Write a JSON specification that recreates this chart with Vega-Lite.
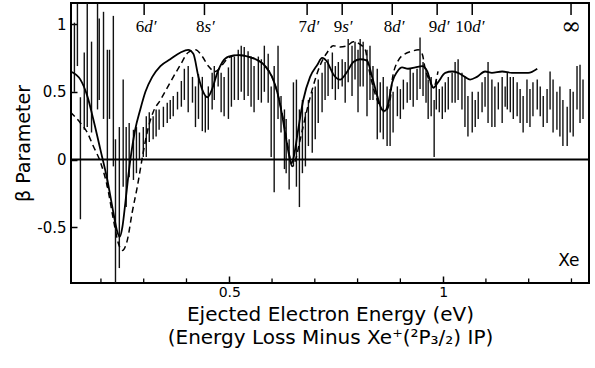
{
"$schema": "https://vega.github.io/schema/vega-lite/v6.json",
"width": 518, "height": 280,
"autosize": "none",
"padding": {"left": 71, "top": 3, "right": 6, "bottom": 85},
"background": "white",
"config": {
 "view": {"stroke": "black", "strokeWidth": 2},
 "axis": {"domain": false, "grid": false, "tickColor": "black", "labelColor": "black", "titleColor": "black", "labelFont": "DejaVu Sans", "titleFont": "DejaVu Sans", "titleFontWeight": "normal"}
},
"datasets": {
 "bars": [
{"E":0.138,"lo":0.50,"hi":1.01},{"E":0.145,"lo":0.69,"hi":1.15},{"E":0.152,"lo":-0.44,"hi":0.46},{"E":0.161,"lo":0.22,"hi":0.79},{"E":0.168,"lo":0.24,"hi":1.16},{"E":0.178,"lo":0.20,"hi":0.87},{"E":0.192,"lo":0.37,"hi":1.15},{"E":0.196,"lo":0.44,"hi":1.04},{"E":0.206,"lo":0.30,"hi":1.09},{"E":0.215,"lo":-0.20,"hi":0.81},{"E":0.220,"lo":0.30,"hi":0.81},{"E":0.229,"lo":-0.05,"hi":1.06},{"E":0.234,"lo":-0.91,"hi":0.15},{"E":0.243,"lo":-0.80,"hi":0.24},{"E":0.252,"lo":-0.20,"hi":0.59},{"E":0.259,"lo":-0.35,"hi":0.24},{"E":0.266,"lo":-0.13,"hi":0.27},{"E":0.276,"lo":-0.15,"hi":0.22},{"E":0.283,"lo":-0.10,"hi":0.24},{"E":0.290,"lo":0.00,"hi":0.20},{"E":0.299,"lo":0.02,"hi":0.24},{"E":0.306,"lo":0.02,"hi":0.32},{"E":0.313,"lo":0.13,"hi":0.35},{"E":0.322,"lo":0.15,"hi":0.32},{"E":0.329,"lo":0.17,"hi":0.37},{"E":0.336,"lo":0.22,"hi":0.37},{"E":0.346,"lo":0.24,"hi":0.39},{"E":0.355,"lo":0.27,"hi":0.42},{"E":0.362,"lo":0.30,"hi":0.44},{"E":0.369,"lo":0.32,"hi":0.47},{"E":0.379,"lo":0.37,"hi":0.50},{"E":0.388,"lo":0.39,"hi":0.58},{"E":0.395,"lo":0.44,"hi":0.67},{"E":0.404,"lo":0.35,"hi":0.69},{"E":0.414,"lo":0.42,"hi":0.61},{"E":0.421,"lo":0.24,"hi":0.54},{"E":0.428,"lo":0.30,"hi":0.63},{"E":0.437,"lo":0.21,"hi":0.61},{"E":0.444,"lo":0.20,"hi":0.47},{"E":0.451,"lo":0.22,"hi":0.54},{"E":0.460,"lo":0.37,"hi":0.64},{"E":0.465,"lo":0.44,"hi":0.69},{"E":0.474,"lo":0.54,"hi":0.65},{"E":0.481,"lo":0.35,"hi":0.64},{"E":0.488,"lo":0.32,"hi":0.61},{"E":0.498,"lo":0.30,"hi":0.68},{"E":0.505,"lo":0.39,"hi":0.76},{"E":0.512,"lo":0.44,"hi":0.76},{"E":0.521,"lo":0.44,"hi":0.81},{"E":0.528,"lo":0.50,"hi":0.84},{"E":0.535,"lo":0.44,"hi":0.83},{"E":0.544,"lo":0.47,"hi":0.80},{"E":0.551,"lo":0.39,"hi":0.76},{"E":0.558,"lo":0.35,"hi":0.69},{"E":0.568,"lo":0.44,"hi":0.76},{"E":0.575,"lo":0.42,"hi":0.74},{"E":0.582,"lo":0.50,"hi":0.84},{"E":0.591,"lo":0.42,"hi":0.78},{"E":0.598,"lo":0.02,"hi":0.54},{"E":0.605,"lo":-0.24,"hi":0.69},{"E":0.614,"lo":0.30,"hi":0.84},{"E":0.621,"lo":0.20,"hi":0.47},{"E":0.629,"lo":-0.07,"hi":0.37},{"E":0.633,"lo":-0.10,"hi":0.30},{"E":0.640,"lo":-0.22,"hi":0.15},{"E":0.650,"lo":-0.05,"hi":0.57},{"E":0.657,"lo":-0.20,"hi":0.59},{"E":0.664,"lo":-0.35,"hi":0.37},{"E":0.671,"lo":-0.10,"hi":0.44},{"E":0.678,"lo":-0.05,"hi":0.35},{"E":0.685,"lo":0.10,"hi":0.44},{"E":0.694,"lo":0.05,"hi":0.50},{"E":0.701,"lo":0.15,"hi":0.54},{"E":0.708,"lo":0.27,"hi":0.59},{"E":0.717,"lo":0.35,"hi":0.64},{"E":0.724,"lo":0.44,"hi":0.72},{"E":0.731,"lo":0.47,"hi":0.74},{"E":0.741,"lo":0.52,"hi":0.79},{"E":0.748,"lo":0.44,"hi":0.69},{"E":0.755,"lo":0.52,"hi":0.72},{"E":0.764,"lo":0.54,"hi":0.74},{"E":0.771,"lo":0.42,"hi":0.72},{"E":0.778,"lo":0.57,"hi":0.89},{"E":0.787,"lo":0.47,"hi":0.84},{"E":0.794,"lo":0.59,"hi":0.87},{"E":0.801,"lo":0.35,"hi":0.81},{"E":0.806,"lo":0.54,"hi":0.89},{"E":0.813,"lo":0.54,"hi":0.87},{"E":0.822,"lo":0.32,"hi":0.81},{"E":0.829,"lo":0.44,"hi":0.84},{"E":0.836,"lo":0.44,"hi":0.69},{"E":0.846,"lo":0.15,"hi":0.67},{"E":0.853,"lo":0.20,"hi":0.57},{"E":0.860,"lo":0.15,"hi":0.61},{"E":0.869,"lo":0.10,"hi":0.54},{"E":0.876,"lo":0.10,"hi":0.52},{"E":0.883,"lo":0.20,"hi":0.50},{"E":0.893,"lo":0.32,"hi":0.54},{"E":0.900,"lo":0.30,"hi":0.52},{"E":0.907,"lo":0.37,"hi":0.59},{"E":0.916,"lo":0.42,"hi":0.57},{"E":0.923,"lo":0.44,"hi":0.67},{"E":0.930,"lo":0.39,"hi":0.64},{"E":0.939,"lo":0.44,"hi":0.67},{"E":0.946,"lo":0.52,"hi":0.90},{"E":0.953,"lo":0.47,"hi":0.72},{"E":0.960,"lo":0.42,"hi":0.67},{"E":0.965,"lo":0.30,"hi":0.59},{"E":0.972,"lo":0.32,"hi":0.61},{"E":0.979,"lo":0.02,"hi":0.44},{"E":0.984,"lo":0.37,"hi":0.59},{"E":0.991,"lo":0.35,"hi":0.52},{"E":0.998,"lo":0.30,"hi":0.54},{"E":1.005,"lo":0.35,"hi":0.57},{"E":1.012,"lo":0.37,"hi":0.61},{"E":1.021,"lo":0.42,"hi":0.64},{"E":1.028,"lo":0.42,"hi":0.72},{"E":1.035,"lo":0.44,"hi":0.74},{"E":1.044,"lo":0.37,"hi":0.64},{"E":1.051,"lo":0.24,"hi":0.61},{"E":1.058,"lo":0.17,"hi":0.47},{"E":1.068,"lo":0.20,"hi":0.50},{"E":1.075,"lo":0.24,"hi":0.44},{"E":1.082,"lo":0.30,"hi":0.50},{"E":1.091,"lo":0.35,"hi":0.57},{"E":1.098,"lo":0.39,"hi":0.61},{"E":1.105,"lo":0.27,"hi":0.72},{"E":1.114,"lo":0.24,"hi":0.59},{"E":1.121,"lo":0.24,"hi":0.54},{"E":1.129,"lo":0.37,"hi":0.57},{"E":1.138,"lo":0.27,"hi":0.61},{"E":1.145,"lo":0.39,"hi":0.54},{"E":1.150,"lo":0.37,"hi":0.64},{"E":1.157,"lo":0.35,"hi":0.61},{"E":1.164,"lo":0.30,"hi":0.61},{"E":1.173,"lo":0.32,"hi":0.57},{"E":1.180,"lo":0.27,"hi":0.52},{"E":1.187,"lo":0.20,"hi":0.47},{"E":1.196,"lo":0.27,"hi":0.59},{"E":1.203,"lo":0.24,"hi":0.52},{"E":1.210,"lo":0.32,"hi":0.57},{"E":1.220,"lo":0.37,"hi":0.59},{"E":1.227,"lo":0.32,"hi":0.54},{"E":1.234,"lo":0.24,"hi":0.47},{"E":1.243,"lo":0.27,"hi":0.52},{"E":1.250,"lo":0.37,"hi":0.65},{"E":1.257,"lo":0.20,"hi":0.59},{"E":1.266,"lo":0.22,"hi":0.50},{"E":1.273,"lo":0.17,"hi":0.54},{"E":1.280,"lo":0.10,"hi":0.44},{"E":1.290,"lo":0.10,"hi":0.39},{"E":1.297,"lo":0.20,"hi":0.52},{"E":1.304,"lo":0.17,"hi":0.50},{"E":1.313,"lo":0.37,"hi":0.69},{"E":1.320,"lo":0.27,"hi":0.70},{"E":1.327,"lo":0.30,"hi":0.59}
 ],
 "solid": [
{"E":0.129,"b":0.65},{"E":0.152,"b":0.59},{"E":0.168,"b":0.47},{"E":0.182,"b":0.30},{"E":0.199,"b":0.07},{"E":0.215,"b":-0.15},{"E":0.229,"b":-0.39},{"E":0.238,"b":-0.53},{"E":0.244,"b":-0.57},{"E":0.250,"b":-0.50},{"E":0.257,"b":-0.32},{"E":0.264,"b":-0.12},{"E":0.271,"b":0.05},{"E":0.280,"b":0.22},{"E":0.292,"b":0.37},{"E":0.304,"b":0.50},{"E":0.320,"b":0.61},{"E":0.339,"b":0.69},{"E":0.362,"b":0.74},{"E":0.386,"b":0.79},{"E":0.404,"b":0.81},{"E":0.416,"b":0.78},{"E":0.428,"b":0.61},{"E":0.439,"b":0.50},{"E":0.449,"b":0.46},{"E":0.460,"b":0.52},{"E":0.472,"b":0.64},{"E":0.484,"b":0.72},{"E":0.498,"b":0.76},{"E":0.521,"b":0.77},{"E":0.544,"b":0.76},{"E":0.568,"b":0.73},{"E":0.584,"b":0.69},{"E":0.600,"b":0.61},{"E":0.612,"b":0.50},{"E":0.624,"b":0.32},{"E":0.633,"b":0.15},{"E":0.640,"b":0.03},{"E":0.645,"b":-0.03},{"E":0.650,"b":0.01},{"E":0.661,"b":0.22},{"E":0.673,"b":0.44},{"E":0.689,"b":0.61},{"E":0.706,"b":0.70},{"E":0.717,"b":0.75},{"E":0.729,"b":0.72},{"E":0.743,"b":0.63},{"E":0.759,"b":0.59},{"E":0.776,"b":0.65},{"E":0.790,"b":0.72},{"E":0.806,"b":0.74},{"E":0.822,"b":0.73},{"E":0.834,"b":0.61},{"E":0.846,"b":0.47},{"E":0.857,"b":0.37},{"E":0.864,"b":0.36},{"E":0.872,"b":0.42},{"E":0.881,"b":0.57},{"E":0.893,"b":0.65},{"E":0.904,"b":0.68},{"E":0.918,"b":0.67},{"E":0.935,"b":0.68},{"E":0.951,"b":0.69},{"E":0.963,"b":0.65},{"E":0.970,"b":0.58},{"E":0.977,"b":0.53},{"E":0.988,"b":0.57},{"E":1.005,"b":0.64},{"E":1.021,"b":0.65},{"E":1.035,"b":0.64},{"E":1.051,"b":0.61},{"E":1.063,"b":0.59},{"E":1.079,"b":0.61},{"E":1.098,"b":0.65},{"E":1.114,"b":0.64},{"E":1.138,"b":0.65},{"E":1.161,"b":0.64},{"E":1.185,"b":0.64},{"E":1.199,"b":0.64},{"E":1.220,"b":0.67}
 ],
 "dashed": [
{"E":0.129,"b":0.35},{"E":0.152,"b":0.27},{"E":0.168,"b":0.20},{"E":0.182,"b":0.10},{"E":0.199,"b":-0.02},{"E":0.215,"b":-0.20},{"E":0.229,"b":-0.44},{"E":0.241,"b":-0.62},{"E":0.250,"b":-0.67},{"E":0.262,"b":-0.59},{"E":0.273,"b":-0.39},{"E":0.285,"b":-0.20},{"E":0.297,"b":0.02},{"E":0.308,"b":0.20},{"E":0.322,"b":0.35},{"E":0.339,"b":0.44},{"E":0.362,"b":0.57},{"E":0.386,"b":0.70},{"E":0.404,"b":0.79},{"E":0.421,"b":0.81},{"E":0.437,"b":0.76},{"E":0.451,"b":0.69},{"E":0.467,"b":0.65},{"E":0.484,"b":0.70},{"E":0.498,"b":0.75},{"E":0.521,"b":0.77},{"E":0.544,"b":0.76},{"E":0.568,"b":0.73},{"E":0.584,"b":0.69},{"E":0.600,"b":0.61},{"E":0.612,"b":0.50},{"E":0.626,"b":0.30},{"E":0.638,"b":0.08},{"E":0.647,"b":-0.05},{"E":0.655,"b":0.00},{"E":0.666,"b":0.15},{"E":0.682,"b":0.37},{"E":0.696,"b":0.54},{"E":0.713,"b":0.70},{"E":0.729,"b":0.79},{"E":0.743,"b":0.84},{"E":0.759,"b":0.83},{"E":0.776,"b":0.84},{"E":0.790,"b":0.87},{"E":0.806,"b":0.85},{"E":0.818,"b":0.81},{"E":0.825,"b":0.69},{"E":0.836,"b":0.54},{"E":0.853,"b":0.39},{"E":0.864,"b":0.35},{"E":0.876,"b":0.44},{"E":0.881,"b":0.59},{"E":0.895,"b":0.73},{"E":0.911,"b":0.78},{"E":0.928,"b":0.80},{"E":0.942,"b":0.81},{"E":0.951,"b":0.78},{"E":0.958,"b":0.67},{"E":0.970,"b":0.57},{"E":0.977,"b":0.53},{"E":0.988,"b":0.65}
 ],
 "levels": [
{"E":0.301,"num":"6","let":"d′"},{"E":0.442,"num":"8","let":"s′"},{"E":0.682,"num":"7","let":"d′"},{"E":0.764,"num":"9","let":"s′"},{"E":0.881,"num":"8","let":"d′"},{"E":0.986,"num":"9","let":"d′"},{"E":1.068,"num":"10","let":"d′"}
 ],
 "minor": [{"E":0.2},{"E":0.3},{"E":0.4},{"E":0.6},{"E":0.7},{"E":0.8},{"E":0.9},{"E":1.1},{"E":1.2},{"E":1.3}],
 "inf": [{"E":1.299,"t":"∞"}],
 "xe": [{"E":1.294,"b":-0.745,"t":"Xe"}],
 "zero": [{"b":0}]
},
"layer": [
 {
  "data": {"name": "bars"},
  "mark": {"type": "rule", "color": "#111", "strokeWidth": 1.4, "clip": true},
  "encoding": {
   "x": {"field": "E", "type": "quantitative",
    "scale": {"domain": [0.13, 1.341], "nice": false, "zero": false},
    "axis": {"values": [0.5, 1],
     "labelExpr": "datum.value < 0.75 ? '0.5' : '1'",
     "offset": -7, "tickSize": 7, "tickWidth": 1.5, "labelFontSize": 14, "labelPadding": 2, "labelOverlap": false, "labelFlush": false, "labelBound": false,
     "title": ["Ejected Electron Energy (eV)", "(Energy Loss Minus Xe⁺(²P₃/₂) IP)"],
     "titleFontSize": 20, "titleLineHeight": 23, "titlePadding": 5}},
   "y": {"field": "hi", "type": "quantitative",
    "scale": {"domain": [-0.91, 1.155], "nice": false, "zero": false},
    "axis": {"values": [-0.5, 0, 0.5, 1],
     "labelExpr": "datum.value == 1 ? '1' : (datum.value == 0.5 ? '0.5' : (datum.value == 0 ? '0' : '-0.5'))",
     "offset": -6, "tickSize": 6, "tickWidth": 1.5, "labelFontSize": 15, "labelPadding": 5,
     "title": "β Parameter", "titleFontSize": 19, "titlePadding": 3}},
   "y2": {"field": "lo"}
  }
 },
 {
  "data": {"name": "minor"},
  "mark": {"type": "rule", "color": "black", "strokeWidth": 1.3},
  "encoding": {
   "x": {"field": "E", "type": "quantitative"},
   "y": {"datum": -0.91, "type": "quantitative"},
   "y2": {"datum": -0.876}
  }
 },
 {
  "data": {"name": "zero"},
  "mark": {"type": "rule", "color": "black", "strokeWidth": 2},
  "encoding": {"y": {"field": "b", "type": "quantitative"}}
 },
 {
  "data": {"name": "solid"},
  "mark": {"type": "line", "color": "black", "strokeWidth": 1.8, "interpolate": "monotone"},
  "encoding": {
   "x": {"field": "E", "type": "quantitative"},
   "y": {"field": "b", "type": "quantitative"}
  }
 },
 {
  "data": {"name": "dashed"},
  "mark": {"type": "line", "color": "black", "strokeWidth": 1.5, "strokeDash": [6, 4], "interpolate": "monotone"},
  "encoding": {
   "x": {"field": "E", "type": "quantitative"},
   "y": {"field": "b", "type": "quantitative"}
  }
 },
 {
  "data": {"name": "levels"},
  "mark": {"type": "rule", "color": "black", "strokeWidth": 1.5},
  "encoding": {
   "x": {"field": "E", "type": "quantitative"},
   "y": {"datum": 1.155, "type": "quantitative"},
   "y2": {"datum": 1.066}
  }
 },
 {
  "data": {"name": "inf"},
  "mark": {"type": "rule", "color": "black", "strokeWidth": 1.5},
  "encoding": {
   "x": {"field": "E", "type": "quantitative"},
   "y": {"datum": 1.155, "type": "quantitative"},
   "y2": {"datum": 1.066}
  }
 },
 {
  "data": {"name": "levels"},
  "mark": {"type": "text", "font": "Liberation Serif", "fontSize": 17, "align": "right", "baseline": "middle", "color": "black"},
  "encoding": {
   "x": {"field": "E", "type": "quantitative"},
   "y": {"datum": 0.98, "type": "quantitative"},
   "text": {"field": "num"}
  }
 },
 {
  "data": {"name": "levels"},
  "mark": {"type": "text", "font": "Liberation Serif", "fontStyle": "italic", "fontSize": 17, "align": "left", "baseline": "middle", "color": "black"},
  "encoding": {
   "x": {"field": "E", "type": "quantitative"},
   "y": {"datum": 0.98, "type": "quantitative"},
   "text": {"field": "let"}
  }
 },
 {
  "data": {"name": "inf"},
  "mark": {"type": "text", "font": "DejaVu Serif", "fontSize": 24, "align": "center", "baseline": "middle", "color": "black"},
  "encoding": {
   "x": {"field": "E", "type": "quantitative"},
   "y": {"datum": 0.975, "type": "quantitative"},
   "text": {"field": "t"}
  }
 },
 {
  "data": {"name": "xe"},
  "mark": {"type": "text", "font": "DejaVu Sans", "fontSize": 17, "align": "center", "baseline": "middle", "color": "black"},
  "encoding": {
   "x": {"field": "E", "type": "quantitative"},
   "y": {"field": "b", "type": "quantitative"},
   "text": {"field": "t"}
  }
 }
]
}
